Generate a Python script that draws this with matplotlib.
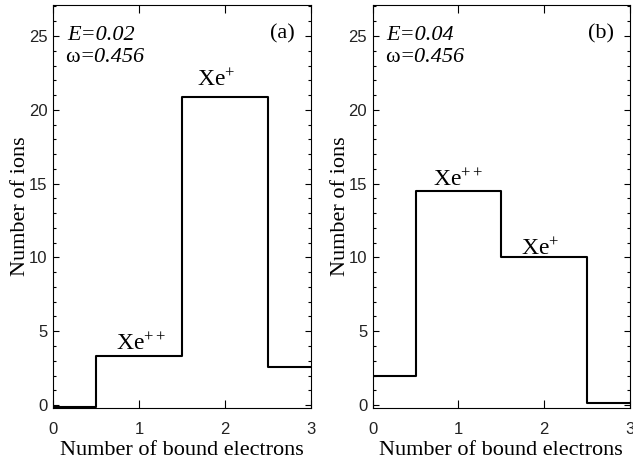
import matplotlib
matplotlib.use("Agg")
import matplotlib.pyplot as plt
from matplotlib.ticker import MultipleLocator

# number of bound electrons (bin centres) and ion counts
electrons = [0, 1, 2, 3]
ions_a = [-0.15, 3.3, 20.9, 2.6]
ions_b = [2.0, 14.5, 10.05, 0.15]

fields = ["0.02", "0.04"]
omega = "0.456"
tags = ["(a)", "(b)"]

# label positions (data coords): (x, y, text)
labels_a = [(1.02, 3.7, "Xe$^{++}$"), (1.9, 21.6, "Xe$^{+}$")]
labels_b = [(1.0, 14.85, "Xe$^{++}$"), (1.95, 10.15, "Xe$^{+}$")]

plt.rcParams["mathtext.fontset"] = "custom"
plt.rcParams["mathtext.rm"] = "Liberation Serif"
plt.rcParams["mathtext.it"] = "Liberation Serif:italic"
plt.rcParams["font.family"] = "Liberation Serif"

fig = plt.figure(figsize=(6.33, 4.62), dpi=100)
ax_a = fig.add_axes([0.0837, 0.1169, 0.4076, 0.8723])
ax_b = fig.add_axes([0.5888, 0.1169, 0.4065, 0.8723])

for ax, ions, field, tag, labels in zip((ax_a, ax_b), (ions_a, ions_b), fields, tags,
                                       (labels_a, labels_b)):
    ax.step(electrons, ions, where="mid", color="black", lw=1.5)
    ax.set_xlim(0, 3)
    ax.set_ylim(-0.2, 27.1)
    ax.xaxis.set_major_locator(MultipleLocator(1))
    ax.yaxis.set_major_locator(MultipleLocator(5))
    ax.yaxis.set_minor_locator(MultipleLocator(1))
    ax.tick_params(axis="x", which="major", direction="in", top=True, length=6, width=0.8,
                   labelsize=12, pad=10, labelcolor="#222222")
    ax.tick_params(axis="y", which="major", direction="in", right=True, length=4, width=0.8,
                   labelsize=12, pad=4, labelcolor="#222222")
    ax.tick_params(axis="y", which="minor", direction="in", right=True, length=2.5, width=0.8)
    for lab in ax.get_xticklabels() + ax.get_yticklabels():
        lab.set_family("Liberation Sans")
    for sp in ax.spines.values():
        sp.set_linewidth(0.8)
    ax.set_xlabel("Number of bound electrons", fontsize=16, labelpad=3)
    ax.set_ylabel("Number of ions", fontsize=16, labelpad=-1)

    ax.text(0.054, 0.914, "E=" + field, transform=ax.transAxes, fontsize=16, style="italic")
    w = ax.text(0.047, 0.845, "ω", transform=ax.transAxes, fontsize=16, va="bottom")
    ax.annotate("=" + omega, xy=(1, 0), xycoords=w, fontsize=16, style="italic",
                va="bottom", ha="left")
    ax.text(0.938, 0.918, tag, transform=ax.transAxes, fontsize=16, ha="right")
    for x, y, s in labels:
        ax.text(x, y, s, fontsize=17, ha="center", va="baseline")

fig.savefig("out.png", dpi=100)
